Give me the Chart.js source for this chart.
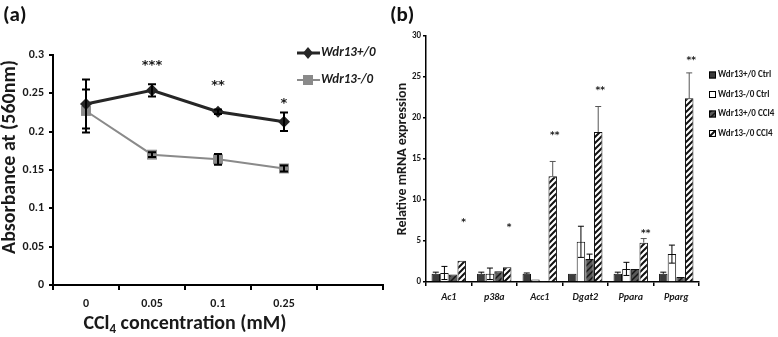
<!DOCTYPE html>
<html>
<head>
<meta charset="utf-8">
<script src="https://cdn.jsdelivr.net/npm/chart.js@4.4.1/dist/chart.umd.min.js"></script>
<style>
  body { margin: 0; background: #fff; }
  #wrap { position: relative; width: 778px; height: 337px; overflow: hidden; }
  .panel { position: absolute; top: 0; height: 337px; }
  .tag { position: absolute; top: 1px; font: bold 21px Carlito, Lato, sans-serif; color: #111; }
</style>
</head>
<body>
<div id="wrap">
  <div class="panel" style="left:0;width:390px"><canvas id="chartA"></canvas></div>
  <div class="panel" style="left:390px;width:388px"><canvas id="chartB"></canvas></div>
  <div class="tag" style="left:3px">(a)</div>
  <div class="tag" style="left:390px">(b)</div>
</div>
<script>
const FONT = 'Carlito, Lato, sans-serif';
const STAR_FONT = '"DejaVu Sans", sans-serif';
const INK = '#1a1a1a';

// (a) absorbance vs CCl4 dose
const doseLabels = ['0', '0.05', '0.1', '0.25', ''];
const wtAbs = [0.236, 0.254, 0.226, 0.213];
const wtAbsErr = [0.032, 0.008, 0.003, 0.012];
const koAbs = [0.227, 0.170, 0.164, 0.152];
const koAbsErr = [0.028, 0.003, 0.007, 0.004];
const absStars = ['', '***', '**', '*'];
const absStarLevel = [null, 0.286, 0.26, 0.236];

// (b) relative mRNA expression
const genes = ['Ac1', 'p38a', 'Acc1', 'Dgat2', 'Ppara', 'Pparg'];
const wtCtrl = [1.0, 1.0, 1.0, 1.0, 1.0, 1.0];
const wtCtrlErr = [0.2, 0.2, 0.1, 0, 0.2, 0.2];
const koCtrl = [1.1, 1.0, 0.3, 4.9, 1.6, 3.4];
const koCtrlErr = [0.8, 0.7, 0, 1.9, 0.8, 1.1];
const wtCcl = [0.9, 1.3, 0.05, 2.8, 1.6, 0.6];
const wtCclErr = [0, 0, 0, 0.6, 0, 0];
const koCcl = [2.6, 1.8, 12.9, 18.3, 4.8, 22.4];
const koCclErr = [0, 0, 1.8, 3.1, 0.5, 3.1];
const geneStars = ['*', '*', '**', '**', '**', '**'];
const geneStarLevel = [7.2, 6.6, 17.8, 23.3, 5.9, 27.0];

function stripes(bg, fg, lw) {
    const s = 6;
    const c = document.createElement('canvas');
    c.width = c.height = s;
    const g = c.getContext('2d');
    g.fillStyle = bg;
    g.fillRect(0, 0, s, s);
    g.strokeStyle = fg;
    g.lineWidth = lw;
    g.beginPath();
    g.moveTo(0, s); g.lineTo(s, 0);
    g.moveTo(-s / 2, s / 2); g.lineTo(s / 2, -s / 2);
    g.moveTo(s / 2, s * 1.5); g.lineTo(s * 1.5, s / 2);
    g.stroke();
    return g.createPattern(c, 'repeat');
}

const errorBars = {
    id: 'errorBars',
    afterDatasetsDraw(chart) {
        const ctx = chart.ctx;
        const y = chart.scales.y;
        chart.data.datasets.forEach((ds, i) => {
            if (!ds.errors) return;
            const meta = chart.getDatasetMeta(i);
            ctx.save();
            ctx.strokeStyle = ds.errorColor || '#000';
            ctx.lineWidth = ds.errorWidth || 1;
            meta.data.forEach((el, j) => {
                const e = ds.errors[j];
                if (!e) return;
                const v = ds.data[j];
                const top = y.getPixelForValue(v + e);
                const bot = y.getPixelForValue(ds.errorUpOnly ? v : v - e);
                const cap = ds.errorCap || 3;
                ctx.beginPath();
                ctx.moveTo(el.x, top); ctx.lineTo(el.x, bot);
                ctx.moveTo(el.x - cap, top); ctx.lineTo(el.x + cap, top);
                if (!ds.errorUpOnly) {
                    ctx.moveTo(el.x - cap, bot); ctx.lineTo(el.x + cap, bot);
                }
                ctx.stroke();
            });
            ctx.restore();
        });
    }
};

const stars = {
    id: 'stars',
    afterDatasetsDraw(chart, args, opts) {
        const ctx = chart.ctx;
        const meta = chart.getDatasetMeta(opts.dataset);
        const y = chart.scales.y;
        ctx.save();
        ctx.font = opts.font;
        ctx.fillStyle = INK;
        ctx.textAlign = 'center';
        ctx.textBaseline = 'middle';
        opts.labels.forEach((t, j) => {
            if (!t) return;
            ctx.fillText(t, meta.data[j].x + (opts.dx || 0), y.getPixelForValue(opts.levels[j]));
        });
        ctx.restore();
    }
};

// legend + axis titles for panel (a)
const decorA = {
    id: 'decorA',
    afterDraw(chart) {
        const ctx = chart.ctx;
        const area = chart.chartArea;
        ctx.save();
        chart.data.datasets.forEach((ds, i) => {
            const y = 53 + i * 27;
            ctx.strokeStyle = ds.borderColor;
            ctx.lineWidth = ds.borderWidth;
            ctx.beginPath();
            ctx.moveTo(297, y); ctx.lineTo(320, y);
            ctx.stroke();
            ctx.fillStyle = ds.pointBackgroundColor;
            ctx.beginPath();
            if (ds.pointStyle === 'rectRot') {
                ctx.moveTo(308, y - 6); ctx.lineTo(313, y); ctx.lineTo(308, y + 6); ctx.lineTo(303, y);
            } else {
                ctx.rect(303, y - 5, 10, 10);
            }
            ctx.fill();
            ctx.fillStyle = INK;
            ctx.font = 'italic bold 13px ' + FONT;
            ctx.textBaseline = 'middle';
            ctx.fillText(ds.label, 321, y);
        });

        // x title with subscript
        const xs = chart.scales.x;
        const cx = (xs.getPixelForValue(0) + xs.getPixelForValue(3)) / 2;
        const big = 'bold 20px ' + FONT, small = 'bold 13px ' + FONT;
        ctx.textBaseline = 'alphabetic';
        ctx.font = big;
        const w1 = ctx.measureText('CCl').width;
        const w3 = ctx.measureText(' concentration (mM)').width;
        ctx.font = small;
        const w2 = ctx.measureText('4').width;
        let x = cx - (w1 + w2 + w3) / 2;
        const base = 329;
        ctx.font = big; ctx.fillText('CCl', x, base); x += w1;
        ctx.font = small; ctx.fillText('4', x, base + 4); x += w2;
        ctx.font = big; ctx.fillText(' concentration (mM)', x, base);

        // y title
        ctx.translate(10, (area.top + area.bottom) / 2 - 13);
        ctx.rotate(-Math.PI / 2);
        ctx.font = 'bold 20px ' + FONT;
        ctx.textAlign = 'center';
        ctx.textBaseline = 'middle';
        ctx.fillText('Absorbance at (560nm)', 0, 0);
        ctx.restore();
    }
};

const legendB = {
    id: 'legendB',
    afterDraw(chart) {
        const ctx = chart.ctx;
        ctx.save();
        ctx.font = 'bold 9px ' + FONT;
        ctx.textBaseline = 'middle';
        chart.data.datasets.forEach((ds, i) => {
            const y = 75 + i * 19.5;
            ctx.fillStyle = ds.backgroundColor;
            ctx.fillRect(319, y - 3.5, 7, 7);
            ctx.strokeStyle = '#000';
            ctx.lineWidth = 1;
            ctx.strokeRect(319.5, y - 3, 6, 6);
            ctx.fillStyle = INK;
            ctx.fillText(ds.label, 328, y);
        });
        ctx.restore();
    }
};

new Chart('chartA', {
    type: 'line',
    data: {
        labels: doseLabels,
        datasets: [
            {
                label: 'Wdr13+/0', data: wtAbs, errors: wtAbsErr, errorWidth: 2, errorCap: 4,
                borderColor: '#262626', borderWidth: 3,
                pointStyle: 'rectRot', pointRadius: 6, pointBackgroundColor: '#262626', pointBorderWidth: 0
            },
            {
                label: 'Wdr13-/0', data: koAbs, errors: koAbsErr, errorWidth: 2, errorCap: 4,
                borderColor: '#8a8a8a', borderWidth: 2,
                pointStyle: 'rect', pointRadius: 7, pointBackgroundColor: '#8a8a8a', pointBorderWidth: 0
            }
        ]
    },
    options: {
        responsive: true,
        maintainAspectRatio: false,
        animation: false,
        layout: { padding: { left: 0, top: 55, right: 5, bottom: 0 } },
        scales: {
            x: {
                offset: true,
                grid: { offset: true, drawOnChartArea: false, tickLength: 5, color: '#000', lineWidth: 2 },
                border: { color: '#000', width: 2 },
                ticks: { font: { family: FONT, size: 12, weight: 'bold' }, color: INK, padding: 7 },
                afterFit: (s) => { s.height = 52; }
            },
            y: {
                min: 0, max: 0.3,
                grid: { drawOnChartArea: false, tickLength: 4, color: '#000', lineWidth: 2 },
                border: { color: '#000', width: 2 },
                ticks: {
                    stepSize: 0.05, font: { family: FONT, size: 12, weight: 'bold' }, color: INK, padding: 5,
                    callback: (v) => String(+v.toFixed(2))
                },
                afterFit: (s) => { s.width = 53; }
            }
        },
        plugins: {
            legend: { display: false },
            tooltip: { enabled: false },
            stars: { dataset: 0, labels: absStars, levels: absStarLevel, font: 'bold 13px ' + STAR_FONT }
        }
    },
    plugins: [errorBars, stars, decorA]
});

new Chart('chartB', {
    type: 'bar',
    data: {
        labels: genes,
        datasets: [
            { label: 'Wdr13+/0 Ctrl', data: wtCtrl, errors: wtCtrlErr, errorUpOnly: true, backgroundColor: '#3b3b3b' },
            { label: 'Wdr13-/0 Ctrl', data: koCtrl, errors: koCtrlErr, backgroundColor: '#ffffff' },
            { label: 'Wdr13+/0 CCl4', data: wtCcl, errors: wtCclErr, errorUpOnly: true, backgroundColor: stripes('#5a5a5a', '#151515', 1.5) },
            { label: 'Wdr13-/0 CCl4', data: koCcl, errors: koCclErr, errorUpOnly: true, errorColor: '#555', backgroundColor: stripes('#ffffff', '#111111', 2) }
        ]
    },
    options: {
        responsive: true,
        maintainAspectRatio: false,
        animation: false,
        layout: { padding: { left: 0, top: 36, right: 79, bottom: 0 } },
        datasets: { bar: { categoryPercentage: 0.76, barPercentage: 0.98, borderWidth: 1, borderColor: '#111' } },
        scales: {
            x: {
                grid: { offset: true, drawOnChartArea: false, tickLength: 4, color: '#000', lineWidth: 1.5 },
                border: { color: '#000', width: 1.5 },
                ticks: { font: { family: FONT, size: 10, weight: 'bold', style: 'italic' }, color: INK, padding: 5 },
                afterFit: (s) => { s.height = 55; }
            },
            y: {
                min: 0, max: 30,
                grid: { drawOnChartArea: false, tickLength: 3, color: '#000', lineWidth: 1.5 },
                border: { color: '#000', width: 1.5 },
                ticks: { stepSize: 5, font: { family: FONT, size: 9, weight: 'bold' }, color: INK, padding: 2 },
                title: { display: true, text: 'Relative mRNA expression', font: { family: FONT, size: 14, weight: 'bold' }, color: INK, padding: 4 },
                afterFit: (s) => { s.width = 36; }
            }
        },
        plugins: {
            legend: { display: false },
            tooltip: { enabled: false },
            stars: { dataset: 3, dx: 2, labels: geneStars, levels: geneStarLevel, font: 'bold 9px ' + STAR_FONT }
        }
    },
    plugins: [errorBars, stars, legendB]
});
</script>
</body>
</html>
